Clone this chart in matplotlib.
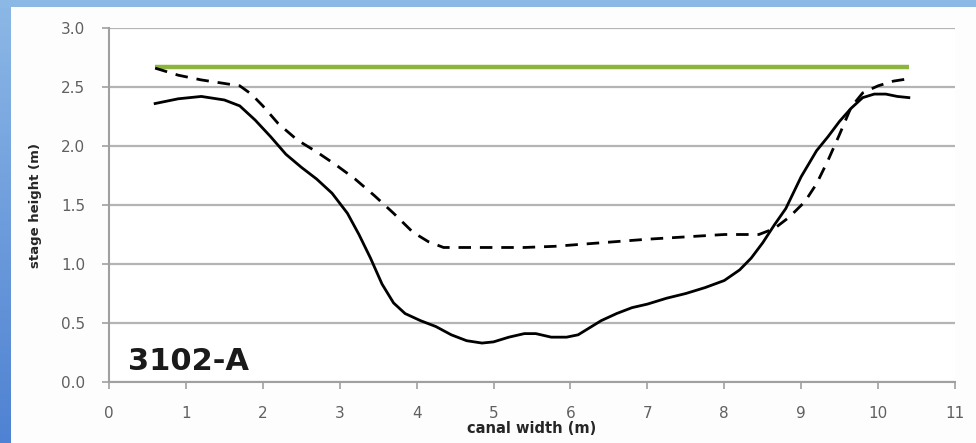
import numpy as np
import matplotlib.pyplot as plt
from matplotlib.patches import Rectangle

# 读取自图片的数据：实线（河床断面）、虚线、绿色水位线
solid_x = [0.6, 0.9, 1.2, 1.5, 1.7, 1.9, 2.1, 2.3, 2.5, 2.7, 2.9, 3.1, 3.25, 3.4,
           3.55, 3.7, 3.85, 4.05, 4.25, 4.45, 4.65, 4.85, 5.0, 5.2, 5.4, 5.55,
           5.75, 5.95, 6.1, 6.25, 6.4, 6.6, 6.8, 7.0, 7.25, 7.5, 7.75, 8.0, 8.2,
           8.35, 8.5, 8.65, 8.8, 9.0, 9.2, 9.35, 9.5, 9.65, 9.8, 9.95, 10.1,
           10.25, 10.4]
solid_y = [2.36, 2.40, 2.42, 2.39, 2.34, 2.22, 2.08, 1.93, 1.82, 1.72, 1.60, 1.43,
           1.25, 1.05, 0.83, 0.67, 0.58, 0.52, 0.47, 0.40, 0.35, 0.33, 0.34, 0.38,
           0.41, 0.41, 0.38, 0.38, 0.40, 0.46, 0.52, 0.58, 0.63, 0.66, 0.71, 0.75,
           0.80, 0.86, 0.95, 1.05, 1.18, 1.33, 1.47, 1.74, 1.96, 2.08, 2.21, 2.32,
           2.41, 2.44, 2.44, 2.42, 2.41]

dashed_x = [0.6, 0.9, 1.2, 1.5, 1.7, 1.85, 2.0, 2.2, 2.45, 2.7, 2.95, 3.2, 3.45,
            3.7, 3.95, 4.15, 4.35, 4.6, 5.0, 5.4, 5.8, 6.2, 6.6, 7.0, 7.5, 8.0,
            8.45, 8.65, 8.85, 9.05, 9.2, 9.35, 9.5, 9.65, 9.8, 10.0, 10.2, 10.4]
dashed_y = [2.66, 2.60, 2.56, 2.53, 2.51, 2.44, 2.34, 2.19, 2.05, 1.95, 1.84, 1.72,
            1.58, 1.43, 1.27, 1.19, 1.14, 1.14, 1.14, 1.14, 1.15, 1.17, 1.19, 1.21,
            1.23, 1.25, 1.25, 1.30, 1.40, 1.53, 1.68, 1.88, 2.10, 2.33, 2.45, 2.51,
            2.55, 2.57]

green_x = [0.6, 10.4]
green_y = [2.67, 2.67]

x_ticks = list(range(0, 12))
y_ticks = [0.0, 0.5, 1.0, 1.5, 2.0, 2.5, 3.0]
site_label = '3102-A'

fig = plt.figure(figsize=(9.76, 4.43), dpi=100)
fig.patch.set_facecolor('#fdfdfd')

# 幻灯片边框（蓝色）
fig.patches.append(Rectangle((0, 1 - 7 / 443), 1, 7 / 443, transform=fig.transFigure,
                             facecolor='#8cb8e6', edgecolor='none', zorder=0))
grad = np.linspace(0, 1, 100).reshape(-1, 1)
bax = fig.add_axes([0, 0, 11 / 976, 1])
bax.imshow(grad, aspect='auto', cmap=plt.matplotlib.colors.LinearSegmentedColormap.from_list(
    'edge', ['#8cb8e6', '#4f82d2']), extent=[0, 1, 0, 1])
bax.axis('off')

ax = fig.add_axes([109 / 976, 61 / 443, 846 / 976, 354 / 443])
ax.set_facecolor('white')

ax.plot(green_x, green_y, color='#8db43c', lw=3.2, solid_capstyle='butt', zorder=3)
ax.plot(dashed_x, dashed_y, color='black', lw=2.0, dashes=(4.5, 3.2), zorder=4)
ax.plot(solid_x, solid_y, color='black', lw=2.0, zorder=5)

ax.set_xlim(0, 11)
ax.set_ylim(0, 3.0)
ax.set_xticks(x_ticks)
ax.set_yticks(y_ticks)
ax.set_yticklabels([f'{v:.1f}' for v in y_ticks])

ax.yaxis.grid(True, color='#b4b4b4', lw=1.6)
ax.set_axisbelow(True)
for side in ['top', 'right']:
    ax.spines[side].set_visible(False)
for side in ['left', 'bottom']:
    ax.spines[side].set_color('#a0a0a0')
    ax.spines[side].set_linewidth(1.5)

ax.tick_params(axis='both', colors='#a0a0a0', labelcolor='#606060', labelsize=11,
               length=5, width=1.2)
ax.tick_params(axis='x', pad=12)
ax.tick_params(axis='y', pad=12)

ax.set_xlabel('canal width (m)', fontsize=10.5, fontweight='bold', color='#262626',
              labelpad=0)
ax.set_ylabel('stage height (m)', fontsize=9.5, fontweight='bold', color='#262626',
              labelpad=14)

ax.text(0.25, 0.1, site_label, fontsize=22, fontweight='bold', color='#1a1a1a',
        va='baseline', ha='left', zorder=6)

fig.savefig('out.png', dpi=100, facecolor=fig.get_facecolor())
